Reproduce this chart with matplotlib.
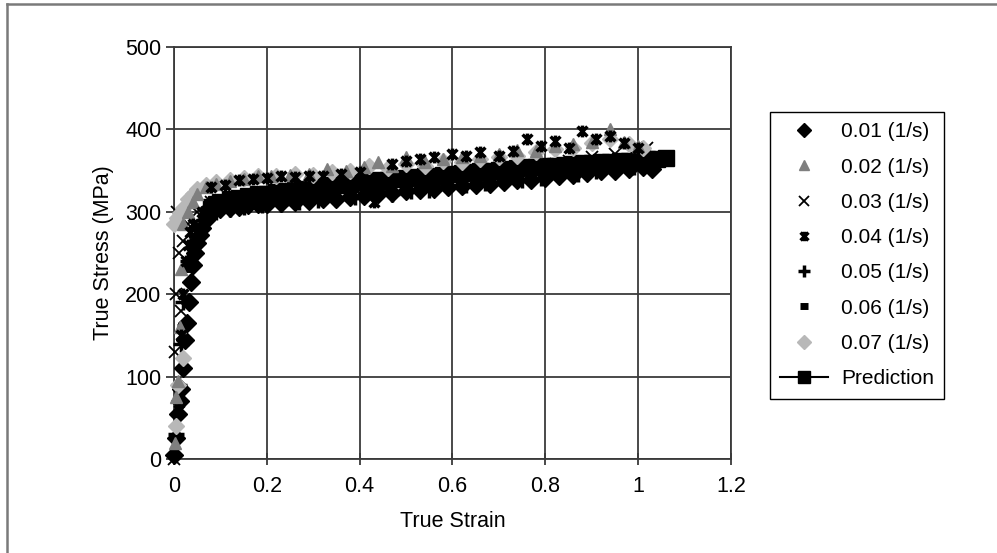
import matplotlib.pyplot as plt
from matplotlib.path import Path
from matplotlib.lines import Line2D

plt.rcParams['font.family'] = ['Liberation Sans', 'DejaVu Sans']

# 0.01 (1/s) - black diamonds, lower part of the band
strain_01 = [0.0, 0.004, 0.008, 0.012, 0.016, 0.02, 0.024, 0.028, 0.032, 0.036, 0.04, 0.045,
             0.05, 0.055, 0.06, 0.07, 0.08, 0.1, 0.12, 0.14, 0.16, 0.18, 0.2, 0.23, 0.26,
             0.29, 0.32, 0.35, 0.38, 0.41, 0.44, 0.47, 0.5, 0.53, 0.56, 0.59, 0.62, 0.65,
             0.68, 0.71, 0.74, 0.77, 0.8, 0.83, 0.86, 0.89, 0.92, 0.95, 0.98, 1.01, 1.03]
stress_01 = [5, 25, 55, 70, 85, 110, 145, 165, 190, 215, 235, 250,
             262, 272, 280, 290, 298, 303, 305, 306, 308, 309, 310, 311, 312,
             313, 315, 316, 318, 319, 321, 323, 325, 326, 328, 330, 331, 333,
             334, 336, 338, 339, 341, 343, 345, 347, 349, 350, 352, 354, 352]

# 0.02 (1/s) - gray triangles, upper part of the band
strain_02 = [0.002, 0.005, 0.008, 0.012, 0.016, 0.02, 0.03, 0.04, 0.05, 0.07, 0.09, 0.12,
             0.15, 0.18, 0.21, 0.25, 0.29, 0.33, 0.37, 0.41, 0.44, 0.47, 0.5, 0.54, 0.58,
             0.62, 0.66, 0.7, 0.74, 0.78, 0.82, 0.86, 0.9, 0.94, 0.97, 1.0]
stress_02 = [20, 75, 95, 160, 230, 285, 300, 312, 322, 330, 334, 337,
             340, 343, 344, 345, 346, 352, 350, 354, 360, 356, 366, 360, 364,
             367, 368, 370, 375, 374, 380, 382, 385, 400, 385, 380]

# 0.03 (1/s) - thin black crosses
strain_03 = [0.0, 0.002, 0.004, 0.006, 0.01, 0.015, 0.02, 0.03, 0.05, 0.08, 0.12, 0.16,
             0.2, 0.25, 0.3, 0.35, 0.4, 0.45, 0.5, 0.55, 0.6, 0.65, 0.7, 0.75, 0.8,
             0.85, 0.9, 0.95, 1.0, 1.02]
stress_03 = [0, 130, 200, 300, 250, 180, 265, 285, 300, 312, 318, 320,
             322, 325, 328, 331, 334, 338, 342, 344, 348, 350, 353, 356, 358,
             362, 366, 370, 374, 378]

# 0.04 (1/s) - black asterisks, wide scatter
strain_04 = [0.01, 0.015, 0.02, 0.025, 0.03, 0.035, 0.04, 0.06, 0.08, 0.11, 0.14, 0.17,
             0.2, 0.23, 0.26, 0.29, 0.32, 0.36, 0.4, 0.43, 0.47, 0.5, 0.53, 0.56, 0.6,
             0.63, 0.66, 0.7, 0.73, 0.76, 0.79, 0.82, 0.85, 0.88, 0.91, 0.94, 0.97, 1.0]
stress_04 = [60, 150, 200, 240, 260, 275, 285, 300, 330, 333, 338, 340,
             341, 343, 342, 344, 343, 346, 348, 312, 358, 362, 364, 366, 370,
             368, 372, 368, 374, 388, 380, 386, 378, 398, 388, 392, 384, 378]

# 0.05 (1/s) - black plus signs
strain_05 = [0.005, 0.01, 0.015, 0.02, 0.03, 0.04, 0.05, 0.07, 0.09, 0.12, 0.15, 0.19,
             0.23, 0.27, 0.31, 0.35, 0.39, 0.43, 0.47, 0.51, 0.55, 0.59, 0.63, 0.67,
             0.71, 0.75, 0.79, 0.83, 0.87, 0.91, 0.95, 0.99, 1.03]
stress_05 = [30, 90, 140, 190, 240, 262, 278, 292, 300, 304, 306, 308,
             310, 312, 314, 316, 318, 320, 322, 325, 327, 330, 332, 335,
             337, 339, 341, 344, 346, 349, 351, 354, 358]

# 0.06 (1/s) - black dashes
strain_06 = [0.01, 0.02, 0.03, 0.045, 0.06, 0.08, 0.1, 0.14, 0.18, 0.22, 0.26, 0.3,
             0.34, 0.38, 0.42, 0.46, 0.5, 0.54, 0.58, 0.62, 0.66, 0.7, 0.74, 0.78,
             0.82, 0.86, 0.9, 0.94, 0.98, 1.02]
stress_06 = [70, 160, 230, 265, 283, 296, 302, 308, 312, 315, 318, 320,
             322, 325, 327, 330, 332, 334, 336, 339, 341, 343, 346, 348,
             350, 352, 355, 357, 359, 361]

# 0.07 (1/s) - light gray diamonds
strain_07 = [0.004, 0.008, 0.02, 0.0, 0.006, 0.012, 0.02, 0.03, 0.04, 0.05, 0.07, 0.09,
             0.12, 0.15, 0.18, 0.22, 0.26, 0.3, 0.34, 0.38, 0.42, 0.46, 0.5, 0.54,
             0.58, 0.62, 0.66, 0.7, 0.74, 0.78, 0.82, 0.86, 0.9, 0.94, 0.98, 1.01]
stress_07 = [40, 90, 122, 285, 292, 298, 305, 315, 322, 328, 332, 336,
             338, 341, 344, 343, 346, 345, 348, 350, 355, 353, 358, 356,
             362, 360, 364, 366, 368, 372, 376, 378, 384, 388, 382, 378]

# Prediction - black line with square markers
strain_pred = [0.08, 0.09, 0.1, 0.12, 0.14, 0.16, 0.18, 0.2, 0.22, 0.24, 0.26, 0.28,
               0.3, 0.32, 0.34, 0.36, 0.38, 0.4, 0.42, 0.44, 0.46, 0.48, 0.5, 0.52,
               0.54, 0.56, 0.58, 0.6, 0.62, 0.64, 0.66, 0.68, 0.7, 0.72, 0.74, 0.76,
               0.78, 0.8, 0.82, 0.84, 0.86, 0.88, 0.9, 0.92, 0.94, 0.96, 0.98, 1.0,
               1.02, 1.04, 1.06]
stress_pred = [306, 310, 312, 315, 317, 319, 321, 322, 324, 325, 327, 328,
               329, 331, 332, 333, 334, 336, 337, 338, 339, 340, 341, 342,
               343, 344, 345, 346, 347, 348, 349, 350, 351, 352, 353, 354,
               354, 355, 356, 357, 358, 359, 359, 360, 361, 362, 362, 363,
               364, 364, 365]

x_ticks = [0, 0.2, 0.4, 0.6, 0.8, 1, 1.2]
x_tick_labels = ['0', '0.2', '0.4', '0.6', '0.8', '1', '1.2']
y_ticks = [0, 100, 200, 300, 400, 500]

# asterisk marker: an x with a vertical bar through it
asterisk = Path([(-1, -1), (1, 1), (-1, 1), (1, -1), (0, -1.2), (0, 1.2)],
                [Path.MOVETO, Path.LINETO, Path.MOVETO, Path.LINETO, Path.MOVETO, Path.LINETO])

fig = plt.figure(figsize=(9.97, 5.53), dpi=100)
ax = fig.add_axes([0.1745, 0.170, 0.5587, 0.745])

kw = dict(linestyle='none', clip_on=False)
ax.plot(strain_pred, stress_pred, color='black', marker='s', markersize=11, lw=1.5,
        label='Prediction', clip_on=False, zorder=2)
ax.plot(strain_01, stress_01, marker='D', color='black', markersize=9, label='0.01 (1/s)', zorder=3, **kw)
ax.plot(strain_05, stress_05, marker='+', color='black', markersize=11, mew=2.5, label='0.05 (1/s)', zorder=3, **kw)
ax.plot(strain_06, stress_06, marker='_', color='black', markersize=8, mew=5, label='0.06 (1/s)', zorder=3, **kw)
ax.plot(strain_03, stress_03, marker='x', color='black', markersize=8.5, mew=1.3, label='0.03 (1/s)', zorder=3, **kw)
ax.plot(strain_07, stress_07, marker='D', color='#b8b8b8', markersize=8.5, label='0.07 (1/s)', zorder=3, **kw)
ax.plot(strain_02, stress_02, marker='^', color='#7f7f7f', markersize=9, label='0.02 (1/s)', zorder=3, **kw)
ax.plot(strain_04, stress_04, marker=asterisk, color='black', markersize=8.5, mew=2.5, fillstyle='none',
        label='0.04 (1/s)', zorder=4, **kw)

ax.set_xlim(0, 1.2)
ax.set_ylim(0, 500)
ax.set_xticks(x_ticks)
ax.set_xticklabels(x_tick_labels)
ax.set_yticks(y_ticks)
ax.grid(True, color='#3a3a3a', lw=1.3)
ax.set_axisbelow(True)
for s in ax.spines.values():
    s.set_color('#3a3a3a')
    s.set_linewidth(1.3)
ax.tick_params(axis='y', direction='out', length=6, width=1.3, color='#3a3a3a', labelsize=15.5, pad=3)
ax.tick_params(axis='x', direction='inout', length=8, width=1.3, color='#3a3a3a', labelsize=15.5, pad=8)
ax.set_xlabel('True Strain', fontsize=15.5, labelpad=10)
ax.set_ylabel('True Stress (MPa)', fontsize=15.5, labelpad=8)

handles, labels = ax.get_legend_handles_labels()
order = ['0.01 (1/s)', '0.02 (1/s)', '0.03 (1/s)', '0.04 (1/s)', '0.05 (1/s)',
         '0.06 (1/s)', '0.07 (1/s)', 'Prediction']
hmap = dict(zip(labels, handles))
leg = fig.legend([hmap[k] for k in order], order, loc='upper left',
                 bbox_to_anchor=(770 / 997, 1 - 112 / 553), fontsize=15, borderaxespad=0,
                 frameon=True, fancybox=False, edgecolor='black', framealpha=1,
                 labelspacing=0.78, handlelength=2.3, handletextpad=0.6, borderpad=0.5,
                 markerscale=0.8)
leg.get_frame().set_linewidth(1.0)

# outer frame of the scanned figure (left and top edges)
fig.add_artist(Line2D([7 / 997, 7 / 997], [0, 1 - 4 / 553], color='#7a7a7a', lw=1.8))
fig.add_artist(Line2D([7 / 997, 1], [1 - 4 / 553, 1 - 4 / 553], color='#7a7a7a', lw=1.8))

fig.savefig('out.png', dpi=100)
